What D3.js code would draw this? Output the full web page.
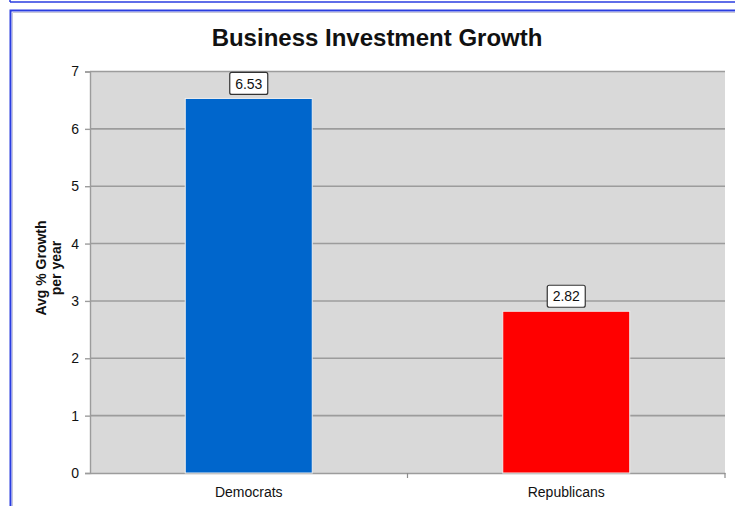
<!DOCTYPE html>
<html>
<head>
<meta charset="utf-8">
<script src="https://cdn.jsdelivr.net/npm/d3@7"></script>
<style>
  html, body { margin: 0; padding: 0; background: #fff; }
  svg { display: block; font-family: "Liberation Sans", Arial, sans-serif; }
</style>
</head>
<body>
<svg id="chart" width="735" height="506"></svg>
<script>
const categories = ["Democrats", "Republicans"];
const values = [6.53, 2.82];
const valueLabels = ["6.53", "2.82"];
const barColors = ["#0066cc", "#ff0000"];
const yTicks = [0, 1, 2, 3, 4, 5, 6, 7];
const title = "Business Investment Growth";
const yTitleLines = ["Avg % Growth", "per year"];

const svg = d3.select("#chart");
const W = 735, H = 506;
const plot = { left: 90, right: 725, top: 71.5, bottom: 473 };

// outer frame
svg.append("line").attr("x1", 10).attr("x2", W).attr("y1", 2).attr("y2", 2)
  .attr("stroke", "#2a3de0").attr("stroke-width", 1.5);
svg.append("line").attr("x1", 10).attr("x2", 10).attr("y1", 0).attr("y2", 2)
  .attr("stroke", "#2a3de0").attr("stroke-width", 1.5);
svg.append("path").attr("d", `M${W},10.5 H10.5 V${H}`)
  .attr("fill", "none").attr("stroke", "#2a3de0").attr("stroke-width", 2);
svg.append("path").attr("d", `M${W},12.5 H12.5 V${H}`)
  .attr("fill", "none").attr("stroke", "#c8c8d8").attr("stroke-width", 1);

const x = d3.scaleBand().domain(categories).range([plot.left, plot.right])
  .paddingInner(0.6).paddingOuter(0.3);
const y = d3.scaleLinear().domain([0, 7]).range([plot.bottom, plot.top]);

// plot background
svg.append("rect").attr("x", plot.left).attr("y", plot.top)
  .attr("width", plot.right - plot.left).attr("height", plot.bottom - plot.top)
  .attr("fill", "#d9d9d9");

// gridlines
svg.append("g").selectAll("line").data(yTicks.filter(d => d > 0)).join("line")
  .attr("x1", plot.left).attr("x2", plot.right)
  .attr("y1", d => y(d)).attr("y2", d => y(d))
  .attr("stroke", "#9c9c9c").attr("stroke-width", 1.6);

// y axis
const yAxis = svg.append("g").attr("transform", `translate(${plot.left},0)`)
  .call(d3.axisLeft(y).tickValues(yTicks).tickSize(5).tickPadding(6).tickFormat(d3.format("d")));
yAxis.select(".domain").attr("stroke", "#9c9c9c").attr("stroke-width", 1.4);
yAxis.selectAll(".tick line").attr("stroke", "#9c9c9c").attr("stroke-width", 1.4);
yAxis.selectAll(".tick text").attr("font-size", 14).attr("fill", "#111")
  .attr("font-family", "Liberation Sans, Arial, sans-serif");

// x axis
const xAxis = svg.append("g").attr("transform", `translate(0,${plot.bottom})`)
  .call(d3.axisBottom(x).tickSize(0).tickPadding(14));
xAxis.select(".domain").attr("stroke", "#9c9c9c").attr("stroke-width", 1.6);
xAxis.selectAll(".tick text").attr("font-size", 14).attr("fill", "#111")
  .attr("font-family", "Liberation Sans, Arial, sans-serif");
// category boundary tick marks
const bounds = [x(categories[1]) - x.step() * x.paddingInner() / 2, plot.right];
svg.append("g").selectAll("line").data(bounds).join("line")
  .attr("x1", d => d).attr("x2", d => d)
  .attr("y1", plot.bottom).attr("y2", plot.bottom + 5)
  .attr("stroke", "#8c8c8c").attr("stroke-width", 1.2);

// bars
svg.append("g").selectAll("rect").data(values).join("rect")
  .attr("x", (d, i) => x(categories[i]))
  .attr("y", d => y(d))
  .attr("width", x.bandwidth())
  .attr("height", d => plot.bottom - y(d))
  .attr("fill", (d, i) => barColors[i])
  .attr("stroke", "#eeeeee").attr("stroke-width", 1);

// value labels
const lbl = svg.append("g").selectAll("g").data(values).join("g")
  .attr("transform", (d, i) => `translate(${x(categories[i]) + x.bandwidth() / 2},${y(d) - 15})`);
lbl.append("rect").attr("x", -19).attr("y", -11).attr("width", 38).attr("height", 22)
  .attr("rx", 2).attr("fill", "#fff").attr("stroke", "#333").attr("stroke-width", 1.2);
lbl.append("text").attr("text-anchor", "middle").attr("dy", "0.36em")
  .attr("font-size", 14).attr("fill", "#111").text((d, i) => valueLabels[i]);

// title
svg.append("text").attr("x", 377).attr("y", 46).attr("text-anchor", "middle")
  .attr("font-size", 24).attr("font-weight", "bold").attr("fill", "#111")
  .text(title);

// y title
const yt = svg.append("text").attr("transform", "translate(46,268) rotate(-90)")
  .attr("text-anchor", "middle").attr("font-size", 14).attr("font-weight", "bold").attr("fill", "#111");
yt.append("tspan").attr("x", 0).attr("y", 0).text(yTitleLines[0]);
yt.append("tspan").attr("x", 0).attr("y", 15).text(yTitleLines[1]);
</script>
</body>
</html>
